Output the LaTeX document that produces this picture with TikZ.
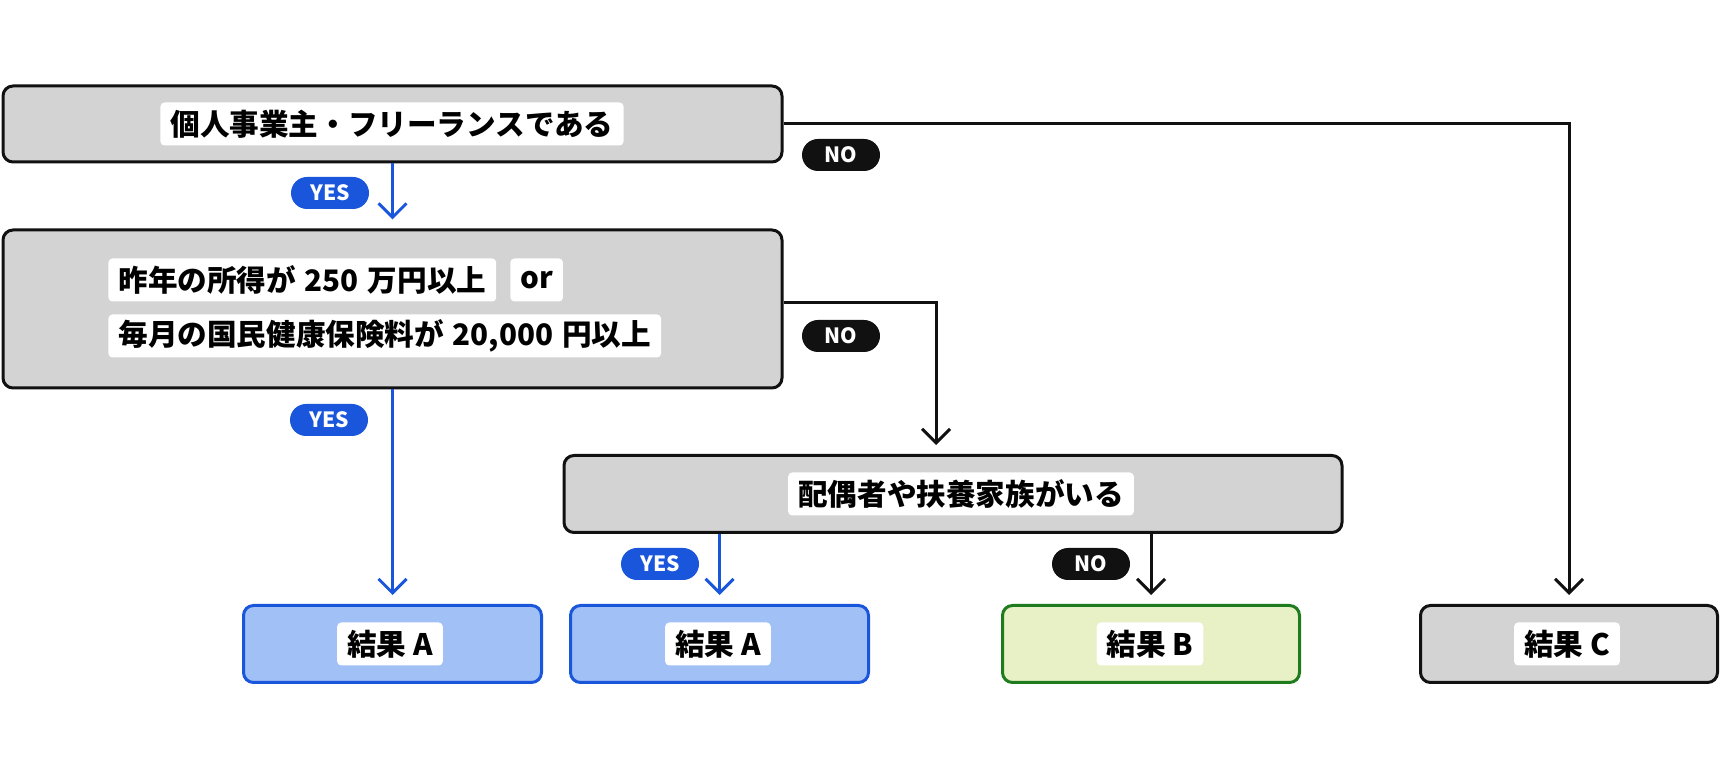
\documentclass[tikz,border=0pt]{standalone}
\usepackage{fontspec}
\setmainfont{Noto Sans CJK JP}
\usetikzlibrary{arrows.meta}
\definecolor{yesblue}{HTML}{1A56DB}
\definecolor{boxgray}{HTML}{D3D3D3}
\definecolor{boxline}{HTML}{111111}
\definecolor{resblue}{HTML}{A1C0F5}
\definecolor{resgreen}{HTML}{E8F0C6}
\definecolor{greenline}{HTML}{1E7B1E}

\begin{document}
\begin{tikzpicture}[x=0.5pt, y=-0.5pt,
    box/.style={draw=boxline, fill=boxgray, line width=1.5pt, rounded corners=5pt, inner sep=0pt},
    txt/.style={fill=white, rounded corners=2pt, inner xsep=5pt, inner ysep=0pt, minimum height=21.5pt,
        font=\fontsize{14.8}{17}\selectfont\bfseries},
    pill/.style={rounded corners=8pt, text=white, inner sep=0pt, minimum width=39pt, minimum height=16pt,
        font=\fontsize{10.5}{12}\selectfont\bfseries},
    yesarrow/.style={draw=yesblue, line width=1.5pt, -{Straight Barb[length=7pt, width=14pt]}, shorten >=4.5pt},
    noarrow/.style={draw=boxline, line width=1.5pt, -{Straight Barb[length=7pt, width=14pt]}, shorten >=4.5pt}]

    \useasboundingbox (0,0) rectangle (1720,769);

    % question boxes
    \node[box, minimum width=389.5pt, minimum height=38pt] (q1) at (392.5,124) {};
    \node[box, minimum width=389.5pt, minimum height=79pt] (q2) at (392.5,309) {};
    \node[box, minimum width=389pt, minimum height=38.5pt] (q3) at (953,494) {};

    % result boxes
    \node[box, draw=yesblue, fill=resblue, minimum width=149pt, minimum height=38.5pt] (rA1) at (392.5,644) {};
    \node[box, draw=yesblue, fill=resblue, minimum width=149pt, minimum height=38.5pt] (rA2) at (719.5,644) {};
    \node[box, draw=greenline, fill=resgreen, minimum width=148.5pt, minimum height=38.5pt] (rB) at (1151,644) {};
    \node[box, minimum width=148.5pt, minimum height=38.5pt] (rC) at (1569,644) {};

    % texts
    \node[txt] (t1) at (392,124) {個人事業主・フリーランスである};
    \node[txt, anchor=west] (t2a) at (108,280) {昨年の所得が\hspace{0.3em}250\hspace{0.3em}万円以上};
    \node[txt, anchor=west] (t2b) at (510,280) {or};
    \node[txt, anchor=west] (t2c) at (108,336) {毎月の国民健康保険料が\hspace{0.3em}20,000\hspace{0.3em}円以上};
    \node[txt] (t3) at (961,494) {配偶者や扶養家族がいる};
    \node[txt] (tA1) at (390,644) {結果 A};
    \node[txt] (tA2) at (718,644) {結果 A};
    \node[txt] (tB) at (1150,644) {結果 B};
    \node[txt] (tC) at (1567,644) {結果 C};

    % connectors
    \draw[yesarrow] (q1) -- (q2);
    \draw[noarrow] (q1.east) -- (q1.east -| rC.north) -- (rC.north);
    \draw[yesarrow] (q2) -- (rA1);
    \draw[noarrow] ([yshift=3pt]q2.east) -| ([xshift=-8.5pt]q3.north);
    \draw[yesarrow] (q3.south -| rA2.north) -- (rA2.north);
    \draw[noarrow] (q3.south -| rB.north) -- (rB.north);

    % yes / no tags
    \node[pill, fill=yesblue] (yes1) at (330,193) {YES};
    \node[pill, fill=boxline] (no1) at (841,155) {NO};
    \node[pill, fill=yesblue] (yes2) at (329,420) {YES};
    \node[pill, fill=boxline] (no2) at (841,336) {NO};
    \node[pill, fill=yesblue] (yes3) at (660,564) {YES};
    \node[pill, fill=boxline] (no3) at (1091,564) {NO};
\end{tikzpicture}
\end{document}
